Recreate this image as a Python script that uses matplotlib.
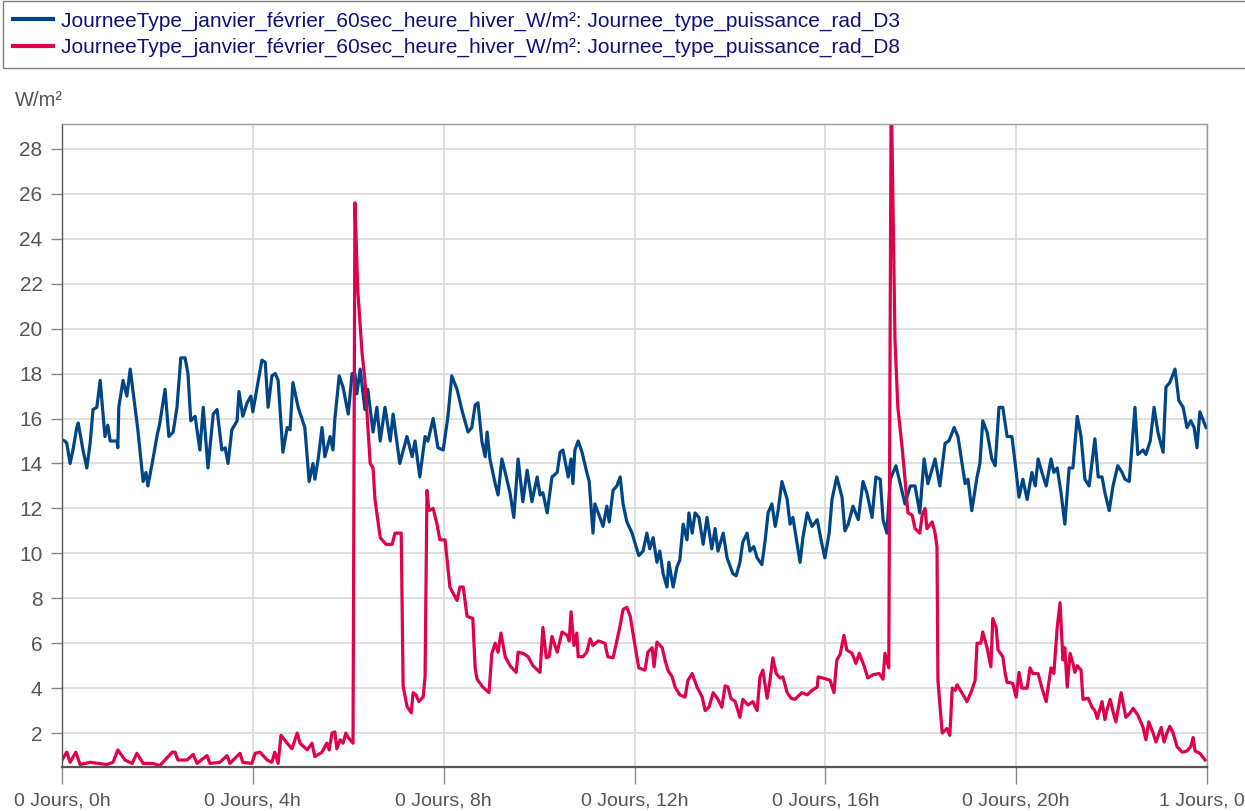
import matplotlib
matplotlib.use("Agg")
import matplotlib.pyplot as plt
from matplotlib.lines import Line2D

# hours of the typical day
d3_hours = [0.00, 0.06, 0.10, 0.17, 0.23, 0.31, 0.34, 0.44, 0.52, 0.59, 0.65, 0.73, 0.80, 0.90, 0.96, 1.01,
            1.15, 1.17, 1.19, 1.28, 1.36, 1.43, 1.53, 1.59, 1.70, 1.76, 1.80, 1.89, 1.99, 2.05, 2.16, 2.24,
            2.33, 2.41, 2.49, 2.58, 2.64, 2.70, 2.79, 2.89, 2.96, 3.06, 3.17, 3.25, 3.35, 3.42, 3.48, 3.56,
            3.67, 3.71, 3.79, 3.88, 3.96, 4.00, 4.09, 4.19, 4.26, 4.32, 4.40, 4.47, 4.53, 4.63, 4.72, 4.78,
            4.84, 4.95, 5.09, 5.18, 5.26, 5.30, 5.37, 5.45, 5.51, 5.62, 5.68, 5.72, 5.81, 5.89, 6.00, 6.08,
            6.14, 6.18, 6.25, 6.35, 6.41, 6.52, 6.60, 6.67, 6.77, 6.88, 6.94, 7.08, 7.23, 7.34, 7.40, 7.50,
            7.61, 7.67, 7.78, 7.88, 7.99, 8.09, 8.17, 8.28, 8.38, 8.51, 8.59, 8.66, 8.72, 8.80, 8.87, 8.91,
            8.97, 9.08, 9.14, 9.22, 9.29, 9.39, 9.47, 9.56, 9.66, 9.75, 9.85, 9.96, 10.02, 10.08, 10.17, 10.27,
            10.38, 10.44, 10.50, 10.61, 10.67, 10.71, 10.75, 10.82, 10.90, 11.00, 11.05, 11.13, 11.17, 11.24,
            11.34, 11.42, 11.47, 11.55, 11.63, 11.70, 11.76, 11.84, 11.95, 11.99, 12.09, 12.18, 12.26, 12.32,
            12.39, 12.47, 12.53, 12.60, 12.68, 12.72, 12.81, 12.89, 12.95, 13.02, 13.10, 13.14, 13.21, 13.27,
            13.35, 13.44, 13.52, 13.62, 13.69, 13.75, 13.86, 13.94, 14.06, 14.13, 14.21, 14.27, 14.36, 14.42,
            14.50, 14.57, 14.67, 14.74, 14.80, 14.88, 14.95, 15.01, 15.09, 15.20, 15.26, 15.32, 15.47, 15.53,
            15.62, 15.72, 15.83, 15.91, 15.99, 16.08, 16.14, 16.24, 16.35, 16.41, 16.48, 16.58, 16.69, 16.79,
            16.87, 16.98, 17.06, 17.15, 17.21, 17.29, 17.36, 17.42, 17.48, 17.57, 17.67, 17.78, 17.88, 17.98,
            18.07, 18.15, 18.30, 18.40, 18.51, 18.59, 18.70, 18.78, 18.93, 18.99, 19.07, 19.18, 19.24, 19.30,
            19.39, 19.49, 19.56, 19.64, 19.72, 19.81, 19.91, 19.98, 20.06, 20.14, 20.23, 20.33, 20.40, 20.46,
            20.54, 20.63, 20.73, 20.79, 20.86, 20.94, 21.02, 21.11, 21.19, 21.28, 21.36, 21.44, 21.53, 21.65,
            21.72, 21.80, 21.86, 21.95, 22.03, 22.13, 22.22, 22.28, 22.37, 22.49, 22.55, 22.66, 22.72, 22.81,
            22.89, 22.97, 23.08, 23.14, 23.22, 23.33, 23.41, 23.50, 23.58, 23.66, 23.73, 23.79, 23.85, 23.98]
d3_values = [15.05, 15.0, 14.9, 14.0, 14.6, 15.6, 15.8, 14.6, 13.8, 14.9, 16.4, 16.5, 17.7, 15.2, 15.7, 15.0,
             15.0, 14.7, 16.5, 17.7, 17.0, 18.2, 16.5, 15.5, 13.2, 13.6, 13.0, 14.0, 15.2, 15.8, 17.3, 15.2,
             15.4, 16.5, 18.7, 18.7, 18.0, 15.9, 16.1, 14.6, 16.5, 13.8, 16.2, 16.4, 14.6, 14.7, 14.0, 15.5,
             15.9, 17.2, 16.1, 16.7, 17.0, 16.3, 17.4, 18.6, 18.5, 16.5, 17.9, 18.0, 17.7, 14.5, 15.6, 15.5,
             17.6, 16.5, 15.6, 13.2, 14.0, 13.3, 14.2, 15.6, 14.3, 15.2, 14.6, 16.0, 17.9, 17.4, 16.2, 18.0,
             18.0, 17.1, 18.2, 16.4, 17.3, 15.4, 16.5, 15.0, 16.5, 15.0, 16.2, 14.0, 15.2, 14.3, 15.0, 13.4,
             15.2, 15.0, 16.0, 14.7, 14.6, 16.1, 17.9, 17.3, 16.4, 15.4, 15.6, 16.6, 16.7, 15.0, 14.3, 15.4,
             14.2, 13.1, 12.6, 14.2, 13.6, 12.7, 11.6, 14.2, 12.3, 13.7, 12.3, 13.4, 12.6, 12.7, 11.8, 13.4,
             13.6, 14.5, 14.6, 13.4, 14.2, 13.1, 14.6, 15.0, 14.5, 13.6, 13.2, 10.9, 12.2, 11.8,
             11.2, 12.1, 11.4, 12.8, 13.0, 13.4, 12.2, 11.4, 10.9, 10.6, 9.9, 10.1, 10.9, 10.2,
             10.7, 9.6, 10.1, 9.1, 8.5, 9.6, 8.5, 9.4, 9.7, 11.3, 10.6, 11.8, 10.9, 11.8,
             11.6, 10.4, 11.6, 10.2, 11.1, 10.1, 10.9, 9.8, 9.1, 9.0, 9.6, 10.5, 10.9, 10.1,
             10.3, 9.8, 9.5, 10.6, 11.8, 12.2, 11.2, 11.9, 13.2, 12.4, 11.3, 11.6, 9.6, 10.7,
             11.8, 11.2, 11.5, 10.6, 9.8, 10.9, 12.4, 13.4, 12.5, 11.0, 11.3, 12.1, 11.5, 13.2,
             12.7, 11.6, 13.4, 13.3, 11.5, 10.9, 13.3, 13.6, 13.9, 13.1, 12.2, 13.0, 13.0, 11.8,
             14.2, 13.1, 14.2, 13.0, 14.9, 15.0, 15.6, 15.2, 13.1, 13.3, 11.9, 13.4, 14.0, 15.9,
             15.4, 14.2, 13.9, 16.5, 16.5, 15.2, 15.2, 14.0, 12.5, 13.3, 12.4, 13.6, 13.0, 14.2,
             13.6, 13.0, 14.2, 13.6, 13.8, 12.7, 11.3, 13.8, 13.8, 16.1, 15.2, 13.3, 13.0, 15.1,
             13.4, 13.4, 12.7, 11.9, 13.0, 13.9, 13.6, 13.3, 13.2, 16.5, 14.4, 14.6, 14.4, 15.0,
             16.5, 15.4, 14.5, 17.4, 17.6, 18.2, 16.8, 16.5, 15.6, 15.9, 15.6, 14.7, 16.3, 15.6]

d8_hours = [0.00, 0.10, 0.17, 0.29, 0.38, 0.59, 0.94, 1.07, 1.17, 1.32, 1.47, 1.57, 1.70, 1.91, 2.05, 2.31,
            2.37, 2.43, 2.62, 2.75, 2.83, 3.04, 3.10, 3.31, 3.46, 3.52, 3.73, 3.79, 3.98, 4.05, 4.15, 4.30,
            4.40, 4.46, 4.53, 4.59, 4.72, 4.82, 4.93, 4.99, 5.14, 5.24, 5.30, 5.45, 5.55, 5.60, 5.66, 5.72,
            5.76, 5.83, 5.89, 5.95, 6.00, 6.10, 6.14, 6.20, 6.29, 6.35, 6.46, 6.52, 6.56, 6.67, 6.79, 6.92,
            6.98, 7.11, 7.15, 7.23, 7.32, 7.36, 7.42, 7.48, 7.57, 7.61, 7.65, 7.69, 7.78, 7.86, 7.92, 8.03,
            8.13, 8.28, 8.34, 8.41, 8.49, 8.61, 8.66, 8.70, 8.82, 8.95, 9.01, 9.08, 9.14, 9.20, 9.29, 9.39,
            9.52, 9.56, 9.66, 9.77, 9.87, 10.02, 10.08, 10.15, 10.21, 10.27, 10.38, 10.48, 10.59, 10.63, 10.67,
            10.73, 10.79, 10.82, 10.92, 11.00, 11.07, 11.13, 11.24, 11.38, 11.44, 11.55, 11.63, 11.70, 11.76,
            11.84, 11.91, 12.01, 12.09, 12.22, 12.28, 12.37, 12.41, 12.47, 12.58, 12.64, 12.70, 12.79, 12.85,
            12.95, 13.06, 13.12, 13.21, 13.31, 13.42, 13.48, 13.56, 13.65, 13.75, 13.83, 13.90, 13.96, 14.02,
            14.11, 14.21, 14.27, 14.38, 14.48, 14.57, 14.63, 14.69, 14.78, 14.84, 14.90, 14.97, 15.05, 15.11,
            15.20, 15.28, 15.36, 15.51, 15.62, 15.72, 15.83, 15.85, 15.95, 16.10, 16.18, 16.24, 16.31, 16.39,
            16.45, 16.56, 16.64, 16.71, 16.81, 16.89, 17.00, 17.13, 17.21, 17.25, 17.33, 17.38, 17.46, 17.52,
            17.61, 17.67, 17.73, 17.82, 17.88, 17.98, 18.03, 18.09, 18.13, 18.24, 18.30, 18.34, 18.36, 18.45,
            18.55, 18.61, 18.66, 18.72, 18.76, 18.86, 18.97, 19.07, 19.14, 19.18, 19.26, 19.30, 19.39, 19.47,
            19.51, 19.58, 19.62, 19.72, 19.77, 19.81, 19.87, 19.93, 20.00, 20.06, 20.12, 20.23, 20.29, 20.35,
            20.46, 20.54, 20.63, 20.67, 20.73, 20.79, 20.86, 20.92, 20.98, 21.02, 21.07, 21.13, 21.19, 21.23,
            21.28, 21.36, 21.40, 21.51, 21.59, 21.65, 21.70, 21.80, 21.86, 21.90, 21.97, 22.03, 22.09, 22.20,
            22.30, 22.39, 22.45, 22.55, 22.66, 22.72, 22.78, 22.87, 22.93, 23.04, 23.10, 23.16, 23.22, 23.29,
            23.37, 23.48, 23.58, 23.66, 23.71, 23.75, 23.85, 23.96]
d8_values = [0.8, 1.15, 0.7, 1.15, 0.6, 0.7, 0.6, 0.7, 1.25, 0.8, 0.65, 1.1, 0.65, 0.65, 0.55, 1.15,
             1.15, 0.8, 0.8, 1.05, 0.65, 1.0, 0.65, 0.7, 1.0, 0.65, 1.1, 0.7, 0.65, 1.1, 1.15, 0.8,
             0.7, 1.15, 0.65, 1.9, 1.55, 1.3, 2.0, 1.55, 1.25, 1.55, 0.95, 1.15, 1.55, 1.25, 2.0, 2.05,
             1.3, 1.7, 1.55, 2.0, 1.8, 1.55, 25.6, 21.7, 18.9, 17.7, 14.0, 13.8, 12.4, 10.7, 10.4, 10.4,
             10.9, 10.9, 4.1, 3.2, 2.9, 3.8, 3.7, 3.4, 3.6, 4.5, 12.8, 11.9, 12.0, 11.3, 10.6, 10.6,
             8.5, 7.9, 8.5, 8.5, 7.2, 7.1, 4.9, 4.4, 4.05, 3.8, 5.55, 6.0, 5.6, 6.45, 5.4, 5.0,
             4.7, 5.6, 5.55, 5.4, 5.0, 4.7, 6.7, 5.35, 5.4, 6.3, 5.6, 6.5, 6.35, 6.1, 7.4,
             5.9, 6.45, 5.4, 5.4, 5.6, 6.2, 5.9, 6.1, 6.0, 5.4, 5.35, 6.1, 6.8, 7.5,
             7.6, 7.2, 5.9, 4.9, 4.8, 5.6, 5.8, 4.95, 6.05, 5.8, 5.25, 4.8, 4.5, 4.05,
             3.7, 3.6, 4.35, 4.65, 4.05, 3.6, 3.0, 3.15, 3.8, 3.5, 3.15, 4.1, 4.05, 3.55,
             3.4, 2.7, 3.5, 3.25, 3.4, 3.0, 4.5, 4.8, 3.55, 4.35, 5.35, 4.65, 4.45, 4.5,
             3.8, 3.55, 3.5, 3.8, 3.7, 3.9, 4.05, 4.5, 4.45, 4.35, 3.8, 5.25, 5.5, 6.35,
             5.7, 5.55, 5.1, 5.55, 5.0, 4.45, 4.6, 4.65, 4.4, 5.55, 4.9, 31.0, 19.5, 16.5,
             14.7, 13.3, 11.8, 11.7, 11.1, 10.9, 11.7, 12.0, 11.1, 11.4, 10.9, 10.3, 4.35, 2.0,
             2.2, 1.9, 4.0, 3.9, 4.15, 3.8, 3.4, 3.9, 4.35, 6.0, 6.0, 6.5, 5.8, 4.95,
             7.1, 6.7, 5.7, 5.4, 4.65, 4.25, 4.25, 4.2, 3.6, 4.7, 4.0, 4.0, 4.9, 4.65,
             4.65, 4.0, 3.4, 4.05, 4.9, 4.65, 6.7, 7.8, 5.25, 5.8, 4.05, 5.55, 5.1, 4.7,
             5.0, 4.8, 3.5, 3.55, 3.15, 3.0, 2.65, 3.4, 2.6, 3.0, 3.5, 2.95, 2.5, 3.8,
             2.7, 2.9, 3.1, 2.8, 2.25, 1.7, 2.5, 2.0, 1.6, 2.25, 1.6, 2.0, 2.3, 2.0,
             1.4, 1.15, 1.2, 1.4, 1.8, 1.2, 1.1, 0.8]

tick_hours = [0, 4, 8, 12, 16, 20, 24]
tick_labels = ["0 Jours, 0h", "0 Jours, 4h", "0 Jours, 8h", "0 Jours, 12h",
               "0 Jours, 16h", "0 Jours, 20h", "1 Jours, 0h"]
y_ticks = [2, 4, 6, 8, 10, 12, 14, 16, 18, 20, 22, 24, 26, 28]

label_d3 = "JourneeType_janvier_février_60sec_heure_hiver_W/m²: Journee_type_puissance_rad_D3"
label_d8 = "JourneeType_janvier_février_60sec_heure_hiver_W/m²: Journee_type_puissance_rad_D8"

blue = "#004687"
red = "#e0004d"

plt.rcParams["font.family"] = ["Liberation Sans", "DejaVu Sans"]

fig = plt.figure(figsize=(12.45, 8.11), dpi=100)
ax = fig.add_axes([62 / 1245, 44 / 811, 1145 / 1245, 643 / 811])

ax.plot(d3_hours, d3_values, color=blue, lw=2.3, solid_joinstyle="round")
ax.plot(d8_hours, d8_values, color=red, lw=2.3, solid_joinstyle="round")

ax.set_xlim(0, 24)
ax.set_ylim(0.49, 29.11)
ax.set_xticks(tick_hours)
ax.set_xticklabels(tick_labels)
ax.set_yticks(y_ticks)
ax.grid(True, color="#d9d9d9", lw=1.2)
ax.set_axisbelow(True)

for side in ["top", "right"]:
    ax.spines[side].set_color("#9a9a9a")
    ax.spines[side].set_linewidth(1.0)
ax.spines["left"].set_color("#555555")
ax.spines["left"].set_linewidth(1.0)
ax.spines["bottom"].set_color("#555555")
ax.spines["bottom"].set_linewidth(1.6)

ax.tick_params(axis="x", length=12, width=1, color="#888888", colors="#555555",
               labelsize=14, pad=6)
ax.tick_params(axis="y", length=8, width=1, color="#888888", colors="#555555",
               labelsize=15, pad=6)

fig.text(15 / 1245, 1 - 100 / 811, "W/m²", color="#555555", fontsize=14.5,
         va="center", ha="left")

handles = [Line2D([], [], color=blue, lw=3), Line2D([], [], color=red, lw=3)]
leg = fig.legend(handles, [label_d3, label_d8], loc="upper left",
                 bbox_to_anchor=(3 / 1245, 1 - 1 / 811, 1, 0), mode="expand",
                 fancybox=False, edgecolor="#808080", framealpha=1,
                 fontsize=15, labelcolor="#10107a", handlelength=1.9,
                 handletextpad=0.4, labelspacing=0.35, borderpad=0.5,
                 borderaxespad=0)
leg.get_frame().set_linewidth(1.0)

fig.savefig("out.png", dpi=100)
